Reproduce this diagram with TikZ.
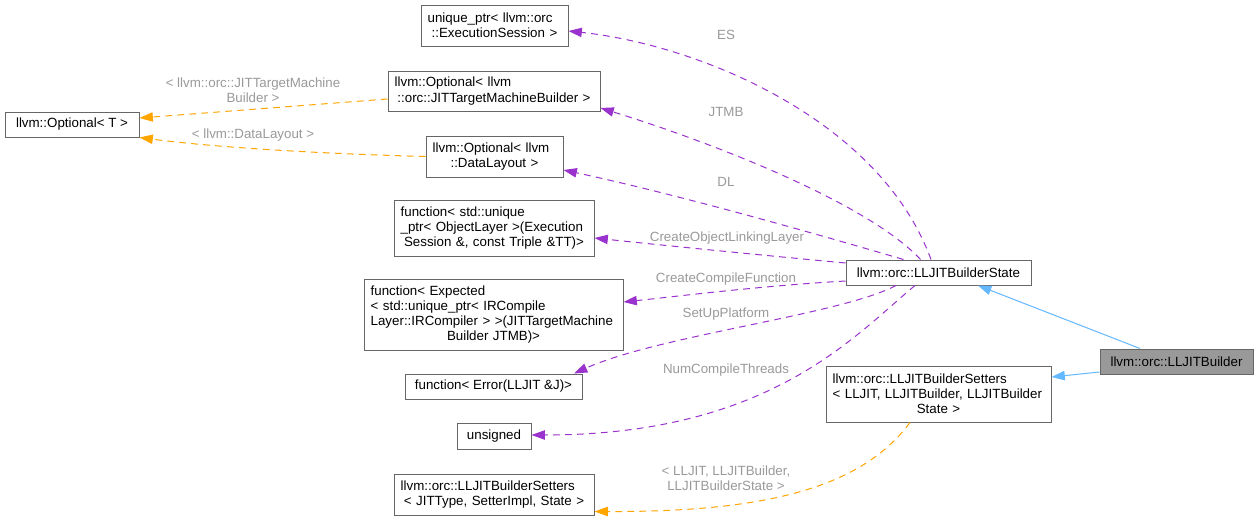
\documentclass[tikz,border=0pt]{standalone}
\usepackage{fontspec}
\setmainfont{Liberation Sans}
\usetikzlibrary{arrows.meta,calc}

\definecolor{edgepurple}{HTML}{9A32CD}
\definecolor{edgeorange}{HTML}{FFA500}
\definecolor{edgeblue}{HTML}{63B8FF}
\definecolor{labelgray}{HTML}{9A9A9A}
\definecolor{boxborder}{HTML}{666666}
\definecolor{boxfill}{HTML}{999999}

% last line of a doxygen label is centred, the others are flush left
\newcommand{\lastln}[1]{\hspace*{\fill}\mbox{#1}\hspace*{\fill}\mbox{}}

\begin{document}
\begin{tikzpicture}[
    x=0.75pt, y=-0.75pt,
    font=\fontsize{10}{11.4}\selectfont,
    box/.style={draw=boxborder, line width=0.75pt, fill=white, align=center,
        inner xsep=5pt, inner ysep=2pt, minimum height=18.75pt},
    mbox/.style={box, align=left},
    lbl/.style={text=labelgray, align=center, inner sep=1pt},
    usage/.style={draw=edgepurple, line width=0.75pt, dash pattern=on 5pt off 4pt,
        -{Triangle[length=10pt, width=7pt]}},
    tmpl/.style={usage, draw=edgeorange},
    inherit/.style={draw=edgeblue, line width=0.75pt, -{Triangle[length=10pt, width=7pt]}}
]
\useasboundingbox[fill=white] (0,0) rectangle (1258,521);

% member types
\node[mbox, text width=100.25pt, minimum height=30.75pt] (session) at (494.5,25.5)
    {\mbox{unique\_ptr< llvm::orc}\\\lastln{::ExecutionSession >}};
\node[mbox, text width=149pt, minimum height=30pt] (jtmb) at (494,91)
    {\mbox{llvm::Optional< llvm}\\\lastln{::orc::JITTargetMachineBuilder >}};
\node[box, minimum width=100.5pt] (optional) at (72,124.5) {llvm::Optional< T >};
\node[mbox, text width=92.75pt, minimum height=30.75pt] (layout) at (494.5,156.5)
    {\mbox{llvm::Optional< llvm}\\\lastln{::DataLayout >}};
\node[mbox, text width=140pt, minimum height=42pt] (objlayer) at (494,228)
    {\mbox{function< std::unique}\\\mbox{\_ptr< ObjectLayer >(Execution}\\\lastln{Session \&, const Triple \&TT)>}};
\node[mbox, text width=184.25pt, minimum height=53.25pt] (compile) at (493.5,314.5)
    {\mbox{function< Expected}\\\mbox{< std::unique\_ptr< IRCompile}\\\mbox{Layer::IRCompiler > >(JITTargetMachine}\\\lastln{Builder JTMB)>}};
\node[box, minimum width=132.75pt] (platform) at (493.5,386.5) {function< Error(LLJIT \&J)>};
\node[box, minimum width=55.5pt, minimum height=19.5pt] (threads) at (494,436) {unsigned};
\node[mbox, text width=140pt, minimum height=30.75pt] (setgen) at (494,494.5)
    {\mbox{llvm::orc::LLJITBuilderSetters}\\\lastln{< JITType, SetterImpl, State >}};

% classes
\node[box, minimum width=138.75pt] (state) at (938.5,272.5) {llvm::orc::LLJITBuilderState};
\node[mbox, text width=158.75pt, minimum height=42pt] (setters) at (938.5,394)
    {\mbox{llvm::orc::LLJITBuilderSetters}\\\mbox{< LLJIT, LLJITBuilder, LLJITBuilder}\\\lastln{State >}};
\node[box, fill=boxfill, minimum width=114.75pt] (builder) at (1176.5,361.5) {llvm::orc::LLJITBuilder};

% edge labels
\node[lbl] (lbljtmb) at (253,90.5) {< llvm::orc::JITTargetMachine\\Builder >};
\node[lbl] (lbllayout) at (253,135) {< llvm::DataLayout >};
\node[lbl] (lbles) at (726,35) {ES};
\node[lbl] (lbljt) at (726,112) {JTMB};
\node[lbl] (lbldl) at (726,182) {DL};
\node[lbl] (lblobj) at (727,238) {CreateObjectLinkingLayer};
\node[lbl] (lblcomp) at (726,279) {CreateCompileFunction};
\node[lbl] (lblplat) at (726,314) {SetUpPlatform};
\node[lbl] (lblthr) at (726,370) {NumCompileThreads};
\node[lbl] (lblset) at (726,478) {< LLJIT, LLJITBuilder,\\LLJITBuilderState >};

% usage relations
\draw[usage] ($(state.north)+(-7.5,0)$) .. controls (880,120) and (700,45) .. ($(session.east)+(0,5.5)$);
\draw[usage] ($(state.north)+(-18,0)$) .. controls (870,205) and (720,145) .. ($(jtmb.east)+(0,17)$);
\draw[usage] ($(state.north)+(-35,0)$) .. controls (820,235) and (680,195) .. ($(layout.east)+(0,13.5)$);
\draw[usage] ($(state.west)+(0,-9.5)$) .. controls (760,255) and (660,245) .. ($(objlayer.east)+(0,10)$);
\draw[usage] ($(state.west)+(0,8.5)$) .. controls (760,286) and (680,296) .. ($(compile.east)+(0,-12.5)$);
\draw[usage] ($(state.south)+(-42.5,0)$) .. controls (840,315) and (660,335) .. ($(platform.north)+(80.5,0)$);
\draw[usage] ($(state.south)+(-23.5,0)$) .. controls (855,335) and (770,435) .. ($(threads.east)+(0,-1)$);

% template instances
\draw[tmpl] ($(jtmb.west)+(0,8)$) -- ($(optional.east)+(0,-6.5)$);
\draw[tmpl] (layout.west) .. controls (330,154) and (220,148) .. (optional.south east);
\draw[tmpl] ($(setters.south)+(-28.5,0)$) .. controls (860,490) and (760,512) .. ($(setgen.east)+(0,17)$);

% inheritance
\draw[inherit] ($(builder.north)+(-36.5,0)$) -- ($(state.south)+(39.5,0)$);
\draw[inherit] ($(builder.west)+(0,10.5)$) -- ($(setters.east)+(0,-17)$);

\end{tikzpicture}
\end{document}
